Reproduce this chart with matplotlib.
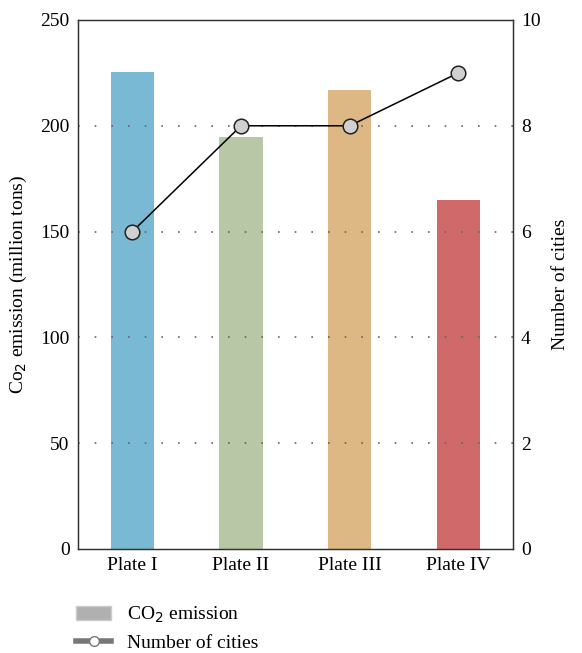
import matplotlib
matplotlib.use("Agg")
import matplotlib.pyplot as plt
from matplotlib.patches import Patch
from matplotlib.lines import Line2D

plates = ["Plate I", "Plate II", "Plate III", "Plate IV"]
co2 = [225.5, 194.5, 217, 165]
cities = [6, 8, 8, 9]
colors = ["#7ab9d3", "#b8c7a6", "#ddb784", "#d06a6a"]

plt.rcParams['font.family'] = ['Liberation Serif', 'DejaVu Serif']
plt.rcParams['font.size'] = 14

fig = plt.figure(figsize=(5.82, 6.53), dpi=100)
ax = fig.add_axes([0.134, 0.1593, 0.747, 0.8101])
x = list(range(len(plates)))
ax.bar(x, co2, width=0.4, color=colors, zorder=1)
ax.set_xlim(-0.5, 3.5)
ax.set_ylim(0, 250)
ax.set_yticks([0, 50, 100, 150, 200, 250])
ax.set_xticks(x)
ax.set_xticklabels(plates)
for y in [50, 100, 150, 200]:
    ax.axhline(y, color="#666666", linestyle=(0, (1, 9)), linewidth=1.2, zorder=2)
ax.tick_params(length=0, pad=6)
ax.set_ylabel("Co$_2$ emission (million tons)", labelpad=8)
for s in ax.spines.values():
    s.set_color("#333333")
    s.set_linewidth(1.0)

ax2 = ax.twinx()
ax2.plot(x, cities, color="black", linewidth=1.1, marker="o", markersize=10.5,
         markerfacecolor="#d0d0d0", markeredgecolor="#222222", markeredgewidth=1.1, zorder=3)
ax2.set_ylim(0, 10)
ax2.set_yticks([0, 2, 4, 6, 8, 10])
ax2.tick_params(length=0, pad=6)
ax2.set_ylabel("Number of cities", labelpad=8)
for s in ax2.spines.values():
    s.set_color("#333333")

handles = [Patch(facecolor="#b0b0b0", edgecolor="#cccccc", label="CO$_2$ emission"),
           Line2D([0], [0], color="#777777", linewidth=4, marker="o", markersize=7,
                  markerfacecolor="white", markeredgecolor="#777777", label="Number of cities")]
fig.legend(handles=handles, loc="upper left", bbox_to_anchor=(0.118, 0.086), frameon=False,
           handlelength=1.8, handletextpad=0.8, labelspacing=0.5, borderaxespad=0)

fig.savefig("out.png", dpi=100)
